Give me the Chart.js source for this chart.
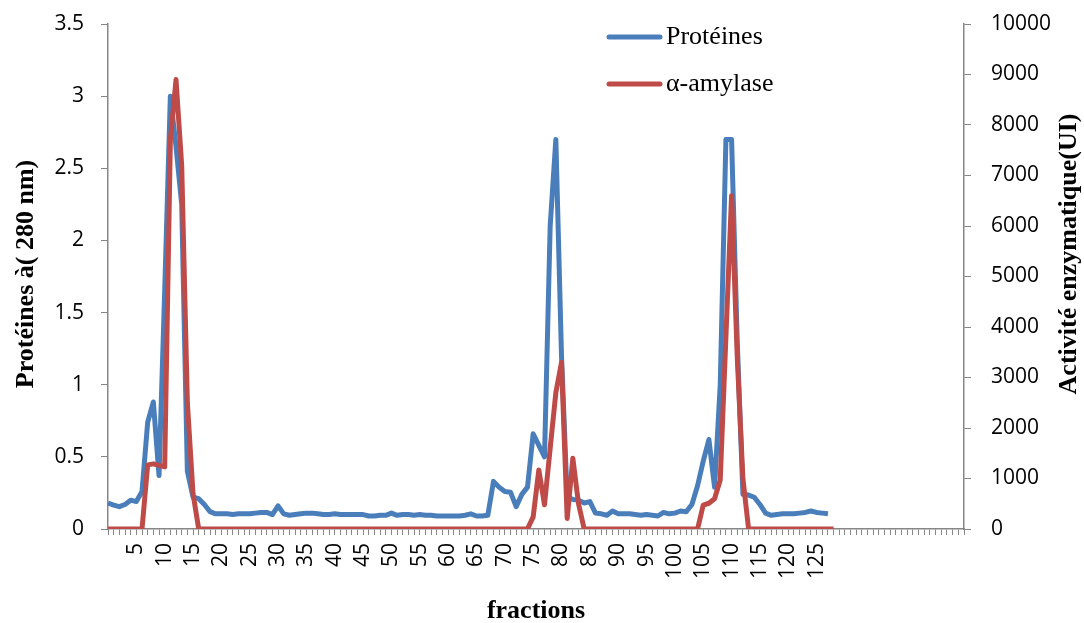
<!DOCTYPE html>
<html>
<head>
<meta charset="utf-8">
<script src="https://cdn.jsdelivr.net/npm/chart.js@4.4.1/dist/chart.umd.min.js"></script>
<style>
  html, body { margin: 0; padding: 0; background: #ffffff; }
  #wrap { width: 1084px; height: 623px; }
</style>
</head>
<body>
<div id="wrap"><canvas id="chart" width="1084" height="623"></canvas></div>
<script>
// Category axis: fraction numbers 0..151 (ticks at every fraction)
const fractions = [];
for (let n = 0; n < 152; n++) fractions.push(String(n));

// Fractions that carry a visible tick label
const labelledFractions = ['5','10','15','20','25','30','35','40','45','50','55','60','65',
  '70','75','80','85','90','95','100','105','110','115','120','125'];

// Absorbance at 280 nm, fractions 0..127
const proteines = [
  0.18, 0.165, 0.155, 0.17, 0.2, 0.19, 0.26, 0.74, 0.88, 0.37,
  1.65, 3.0, 2.65, 2.25, 0.4, 0.22, 0.21, 0.17, 0.12, 0.105,
  0.105, 0.105, 0.1, 0.105, 0.105, 0.105, 0.11, 0.115, 0.115, 0.1,
  0.16, 0.105, 0.095, 0.1, 0.105, 0.11, 0.11, 0.105, 0.1, 0.1,
  0.105, 0.1, 0.1, 0.1, 0.1, 0.1, 0.09, 0.09, 0.095, 0.095,
  0.11, 0.095, 0.1, 0.1, 0.095, 0.1, 0.095, 0.095, 0.09, 0.09,
  0.09, 0.09, 0.09, 0.095, 0.105, 0.09, 0.09, 0.095, 0.33, 0.29,
  0.26, 0.255, 0.155, 0.24, 0.29, 0.66, 0.58, 0.5, 2.1, 2.7,
  1.2, 0.22, 0.205, 0.2, 0.18, 0.19, 0.11, 0.105, 0.095, 0.125,
  0.105, 0.105, 0.105, 0.1, 0.095, 0.1, 0.095, 0.09, 0.115, 0.105,
  0.11, 0.125, 0.12, 0.17, 0.3, 0.47, 0.62, 0.29, 1.0, 2.7,
  2.7, 1.3, 0.24, 0.235, 0.22, 0.17, 0.11, 0.095, 0.1, 0.105,
  0.105, 0.105, 0.11, 0.115, 0.125, 0.115, 0.11, 0.105
];

// Alpha-amylase activity (UI), fractions 0..128
const amylase = [
  0, 0, 0, 0, 0, 0, 0, 1270, 1290, 1260,
  1230, 7700, 8900, 7200, 2500, 700, 0, 0, 0, 0,
  0, 0, 0, 0, 0, 0, 0, 0, 0, 0,
  0, 0, 0, 0, 0, 0, 0, 0, 0, 0,
  0, 0, 0, 0, 0, 0, 0, 0, 0, 0,
  0, 0, 0, 0, 0, 0, 0, 0, 0, 0,
  0, 0, 0, 0, 0, 0, 0, 0, 0, 0,
  0, 0, 0, 0, 0, 240, 1170, 480, 1600, 2700,
  3300, 210, 1400, 500, 0, 0, 0, 0, 0, 0,
  0, 0, 0, 0, 0, 0, 0, 0, 0, 0,
  0, 0, 0, 0, 0, 475, 510, 600, 970, 3800,
  6600, 3400, 1000, 0, 0, 0, 0, 0, 0, 0,
  0, 0, 0, 0, 0, 0, 0, 0, 0
];

// Axis tick values
const proteinTicks = [0, 0.5, 1, 1.5, 2, 2.5, 3, 3.5];
const activityTicks = [0, 1000, 2000, 3000, 4000, 5000, 6000, 7000, 8000, 9000, 10000];

const xTitle = 'fractions';
const yTitle = 'Protéines à( 280 nm)';
const y1Title = 'Activité enzymatique(UI)';

const AXIS_GREY = '#868686';
const BLUE = '#4a7ebb';
const RED = '#be4b48';
const TICK_FONT = { family: '"Open Sans", sans-serif', size: 21 };
const SERIF = '"Liberation Serif", "Times New Roman", serif';

// Axis titles and the legend block drawn inside the plot
const decorations = {
  id: 'decorations',
  afterDraw(chart) {
    const ctx = chart.ctx;
    const area = chart.chartArea;
    ctx.save();
    ctx.fillStyle = '#000000';
    ctx.textAlign = 'center';
    ctx.textBaseline = 'middle';
    ctx.font = 'bold 26px ' + SERIF;
    ctx.fillText(xTitle, (area.left + area.right) / 2, 611);

    ctx.save();
    ctx.translate(26, 274);
    ctx.rotate(-Math.PI / 2);
    ctx.fillText(yTitle, 0, 0);
    ctx.restore();

    ctx.save();
    ctx.translate(1069, 254);
    ctx.rotate(-Math.PI / 2);
    ctx.fillText(y1Title, 0, 0);
    ctx.restore();

    // legend
    ctx.font = '26px ' + SERIF;
    ctx.textAlign = 'left';
    const rows = [37, 84];
    chart.data.datasets.forEach((ds, k) => {
      const y = rows[k];
      ctx.strokeStyle = ds.borderColor;
      ctx.lineWidth = 5;
      ctx.lineCap = 'round';
      ctx.beginPath();
      ctx.moveTo(609, y);
      ctx.lineTo(660, y);
      ctx.stroke();
      ctx.fillText(ds.label, 666, y);
    });
    ctx.restore();
  }
};

// Fixed box sizes for the value axes, without extra label overflow padding
function fixVertical(width) {
  return function (scale) {
    scale.width = width;
    scale.paddingTop = 0;
    scale.paddingBottom = 0;
  };
}

new Chart(document.getElementById('chart'), {
  type: 'line',
  data: {
    labels: fractions,
    datasets: [
      {
        label: 'Protéines',
        data: proteines,
        yAxisID: 'y',
        borderColor: BLUE,
        backgroundColor: BLUE,
        borderWidth: 5,
        borderJoinStyle: 'round',
        pointRadius: 0,
        tension: 0,
        order: 2
      },
      {
        label: 'α-amylase',
        data: amylase,
        yAxisID: 'y1',
        borderColor: RED,
        backgroundColor: RED,
        borderWidth: 5,
        borderJoinStyle: 'round',
        pointRadius: 0,
        tension: 0,
        order: 1
      }
    ]
  },
  options: {
    responsive: false,
    animation: false,
    events: [],
    layout: { padding: { top: 24, left: 0, right: 0, bottom: 0 } },
    plugins: {
      legend: { display: false },
      tooltip: { enabled: false },
      title: { display: false }
    },
    scales: {
      x: {
        type: 'category',
        offset: false,
        afterFit(scale) { scale.height = 94; },
        grid: {
          display: true,
          offset: false,
          drawOnChartArea: false,
          drawTicks: true,
          tickLength: 6,
          color: AXIS_GREY,
          lineWidth: 1
        },
        border: { display: true, color: AXIS_GREY, width: 1.5 },
        ticks: {
          autoSkip: false,
          minRotation: 90,
          maxRotation: 90,
          padding: 8,
          color: '#000000',
          font: TICK_FONT,
          callback(value, index) {
            const lab = fractions[index];
            return labelledFractions.includes(lab) ? lab : '';
          }
        }
      },
      y: {
        position: 'left',
        min: 0,
        max: 3.5,
        afterFit: fixVertical(108),
        afterBuildTicks(scale) { scale.ticks = proteinTicks.map(v => ({ value: v })); },
        grid: {
          display: true,
          drawOnChartArea: false,
          drawTicks: true,
          tickLength: 7,
          color: AXIS_GREY,
          lineWidth: 1
        },
        border: { display: true, color: AXIS_GREY, width: 1.5 },
        ticks: {
          padding: 17,
          color: '#000000',
          font: TICK_FONT,
          callback(value) { return String(value); }
        }
      },
      y1: {
        position: 'right',
        min: 0,
        max: 10000,
        afterFit: fixVertical(120),
        afterBuildTicks(scale) { scale.ticks = activityTicks.map(v => ({ value: v })); },
        grid: {
          display: true,
          drawOnChartArea: false,
          drawTicks: true,
          tickLength: 7,
          color: AXIS_GREY,
          lineWidth: 1
        },
        border: { display: true, color: AXIS_GREY, width: 1.5 },
        ticks: {
          padding: 20,
          color: '#000000',
          font: TICK_FONT,
          callback(value) { return String(value); }
        }
      }
    }
  },
  plugins: [decorations]
});
</script>
</body>
</html>
